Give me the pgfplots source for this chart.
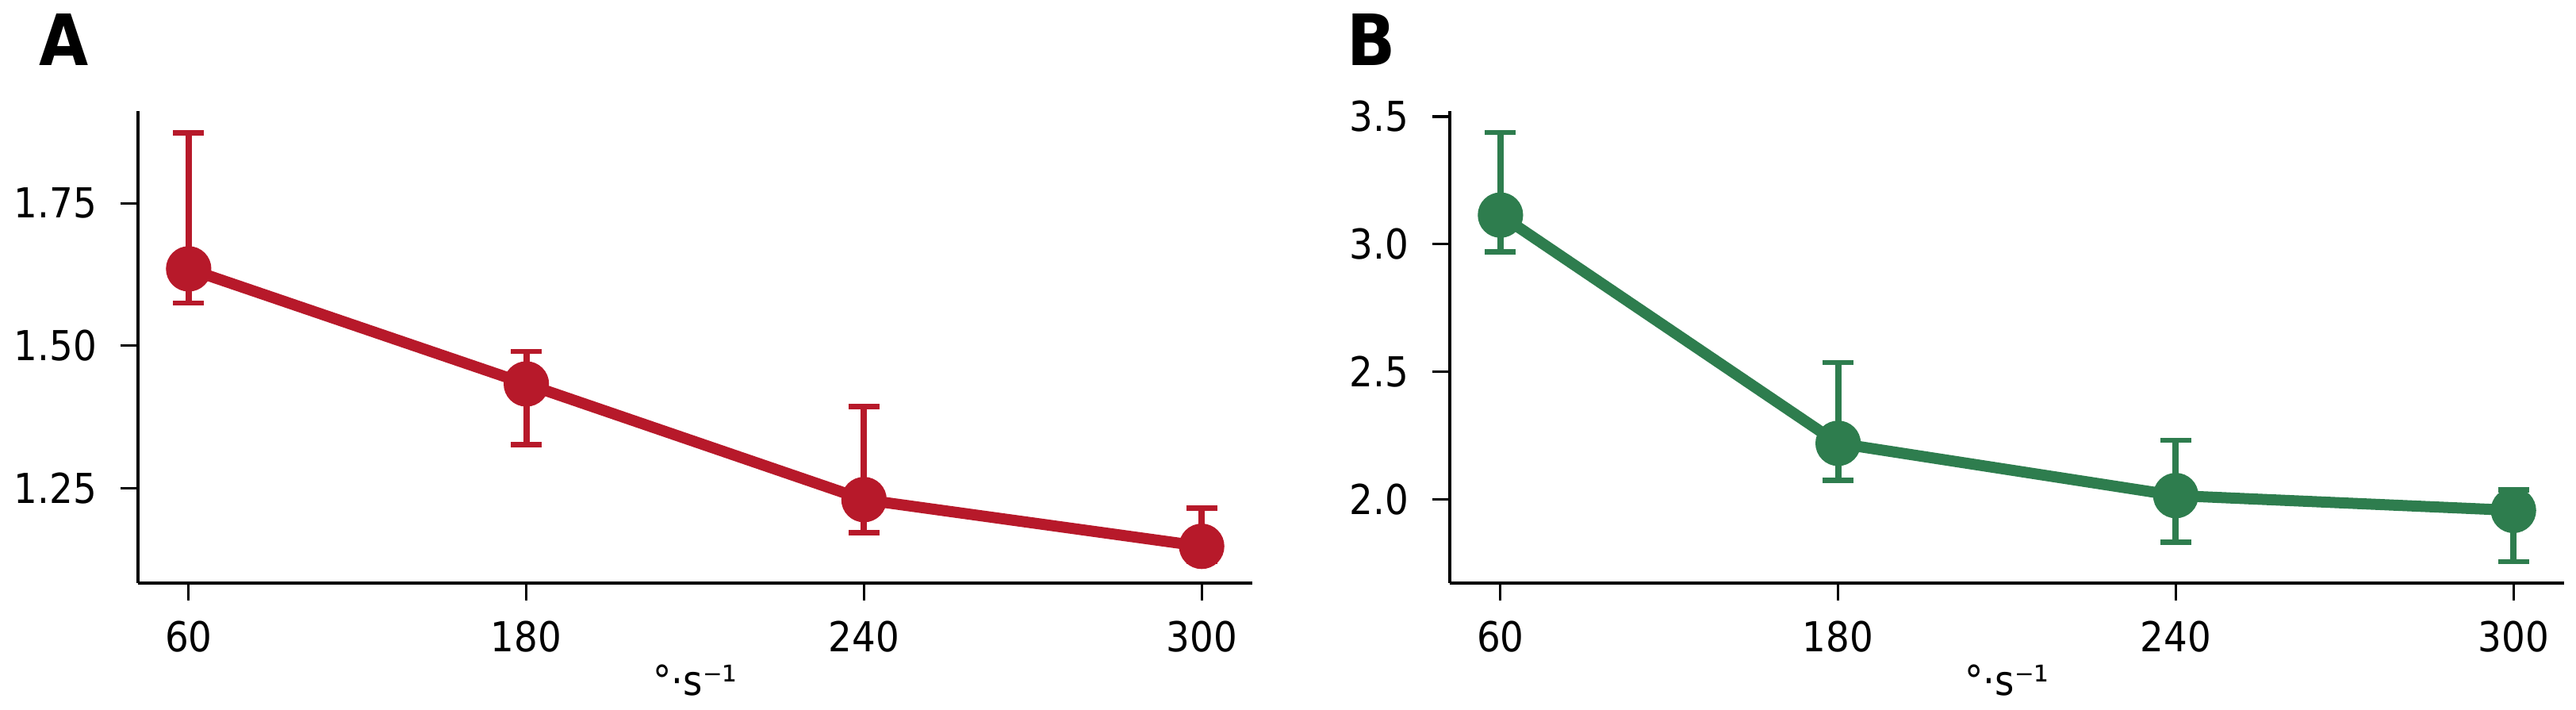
\documentclass[border=0pt]{standalone}
\usepackage{fontspec}
\setmainfont{DejaVu Sans}[FakeStretch=0.9]
\usepackage{pgfplots}
\usepackage{pgfplotstable}
\pgfplotsset{compat=1.18}
\definecolor{cred}{RGB}{183,25,42}
\definecolor{cgreen}{RGB}{46,125,78}

\pgfplotstableread{
x y ep em
0 1.635 0.239 0.060
1 1.433 0.057 0.106
2 1.230 0.163 0.058
3 1.148 0.067 0.027
}\dataA
\pgfplotstableread{
x y ep em
0 3.114 0.324 0.144
1 2.219 0.317 0.144
2 2.014 0.217 0.183
3 1.956 0.080 0.201
}\dataB

\pgfplotsset{panel/.style={
  scale only axis, width=351.25pt, height=148.75pt, anchor=south west,
  axis x line*=bottom, axis y line*=left,
  axis line style={line width=1pt, black},
  tick align=outside, major tick length=5.5pt,
  tick style={line width=0.8pt, black},
  xmin=-0.15, xmax=3.15, xtick={0,1,2,3}, xticklabels={60,180,240,300},
  ticklabel style={font=\fontsize{13}{15}\selectfont, inner sep=0pt},
  xticklabel style={anchor=north, yshift=-6.25pt},
  yticklabel style={anchor=east, xshift=-7.25pt},
  xlabel={°·s⁻¹},
  xlabel style={font=\fontsize{13}{15}\selectfont, at={(axis description cs:0.5,0)}, anchor=base, yshift=-35.5pt, inner sep=0pt},
  clip=false,
}}

\begin{document}
\begin{tikzpicture}
\useasboundingbox (0,0) rectangle (812pt,223.75pt);
\node[anchor=base west, inner sep=0pt, font=\fontsize{22.3}{24}\selectfont\bfseries] at (12.25pt,203pt) {A};
\node[anchor=base west, inner sep=0pt, font=\fontsize{22.3}{24}\selectfont\bfseries] at (424.5pt,203pt) {B};

\begin{axis}[panel, at={(43.5pt,40pt)},
  ymin=1.0835, ymax=1.912, ytick={1.25,1.5,1.75}, yticklabels={1.25,1.50,1.75}]
\addplot[cred, line width=3.5pt, mark=*, mark size=5.4pt,
  error bars/.cd, y dir=both, y explicit,
  error bar style={cred, line width=2pt},
  error mark options={cred, rotate=90, line width=1.7pt, mark size=4.9pt}]
  table[x=x, y=y, y error plus=ep, y error minus=em] {\dataA};
\end{axis}

\begin{axis}[panel, at={(457pt,40pt)},
  ymin=1.671, ymax=3.522, ytick={2,2.5,3,3.5}, yticklabels={2.0,2.5,3.0,3.5}]
\addplot[cgreen, line width=3.5pt, mark=*, mark size=5.4pt,
  error bars/.cd, y dir=both, y explicit,
  error bar style={cgreen, line width=2pt},
  error mark options={cgreen, rotate=90, line width=1.7pt, mark size=4.9pt}]
  table[x=x, y=y, y error plus=ep, y error minus=em] {\dataB};
\end{axis}
\end{tikzpicture}
\end{document}
